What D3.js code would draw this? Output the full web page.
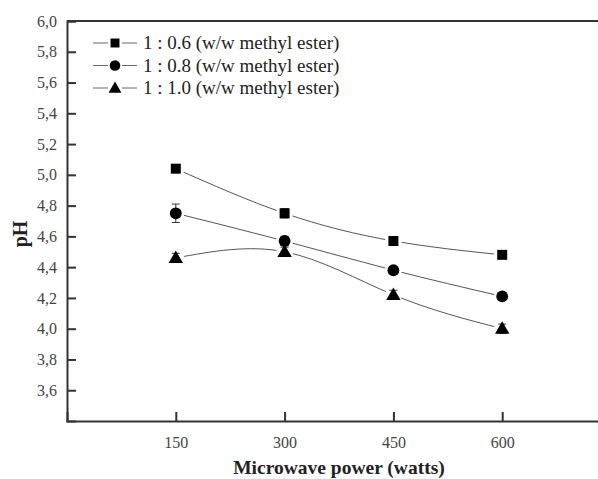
<!DOCTYPE html>
<html>
<head>
<meta charset="utf-8">
<script src="https://cdn.jsdelivr.net/npm/d3@7"></script>
<style>
  body { margin: 0; background: #fff; }
  text { font-family: "Liberation Serif", "Times New Roman", serif; fill: #222; }
</style>
</head>
<body>
<div id="chart"></div>
<script>
// Data
const powers = [150, 300, 450, 600];
const seriesNames = ["1 : 0.6 (w/w methyl ester)", "1 : 0.8 (w/w methyl ester)", "1 : 1.0 (w/w methyl ester)"];
const seriesSymbols = ["square", "circle", "triangle"];
const ph06 = [5.04, 4.75, 4.57, 4.48];
const ph08 = [4.75, 4.57, 4.38, 4.21];
const ph10 = [4.46, 4.50, 4.22, 4.00];
const err06 = [0.02, 0.03, 0.02, 0.02];
const err08 = [0.06, 0.03, 0.02, 0.02];
const err10 = [0.03, 0.03, 0.03, 0.03];
const xTicks = [150, 300, 450, 600];
const yTicks = [3.6, 3.8, 4.0, 4.2, 4.4, 4.6, 4.8, 5.0, 5.2, 5.4, 5.6, 5.8, 6.0];

const width = 598, height = 479;
const margin = { left: 67, top: 21, right: -13, bottom: 58 };

const svg = d3.select('#chart').append('svg')
    .attr('width', width)
    .attr('height', height);

const x = d3.scaleLinear().domain([0, 750]).range([margin.left, width - margin.right]);
const y = d3.scaleLinear().domain([3.4, 6.0]).range([height - margin.bottom, margin.top]);

const series = [ph06, ph08, ph10].map((vals, i) => ({
    name: seriesNames[i],
    symbol: seriesSymbols[i],
    points: powers.map((p, j) => ({ x: p, y: vals[j], e: [err06, err08, err10][i][j] }))
}));

function symbolPath(type, size) {
    const t = type === 'square' ? d3.symbolSquare : type === 'circle' ? d3.symbolCircle : d3.symbolTriangle;
    return d3.symbol().type(t).size(size)();
}
const symSize = { square: 100, circle: 110, triangle: 90 };

// Lines (natural spline like Origin)
const line = d3.line().x(d => x(d.x)).y(d => y(d.y)).curve(d3.curveNatural);
const linesG = svg.append('g');
series.forEach(s => {
    linesG.append('path')
        .attr('d', line(s.points))
        .attr('fill', 'none')
        .attr('stroke', '#555')
        .attr('stroke-width', 1);
});

// White gaps around markers
series.forEach(s => {
    svg.append('g').selectAll('circle')
        .data(s.points).enter().append('circle')
        .attr('cx', d => x(d.x)).attr('cy', d => y(d.y))
        .attr('r', 8.5).attr('fill', '#fff');
});

// Error bars
series.forEach(s => {
    const g = svg.append('g').attr('stroke', '#333').attr('stroke-width', 1);
    s.points.forEach(d => {
        const cx = x(d.x), y1 = y(d.y + d.e), y2 = y(d.y - d.e);
        g.append('line').attr('x1', cx).attr('x2', cx).attr('y1', y1).attr('y2', y2);
        g.append('line').attr('x1', cx - 4).attr('x2', cx + 4).attr('y1', y1).attr('y2', y1);
        g.append('line').attr('x1', cx - 4).attr('x2', cx + 4).attr('y1', y2).attr('y2', y2);
    });
});

// Markers
series.forEach(s => {
    svg.append('g').selectAll('path')
        .data(s.points).enter().append('path')
        .attr('transform', d => `translate(${x(d.x)},${y(d.y) + (s.symbol === 'triangle' ? 1 : 0)})`)
        .attr('d', symbolPath(s.symbol, symSize[s.symbol]))
        .attr('fill', '#000');
});

// Axes with inward ticks
const fmt = d => d3.format('.1f')(d).replace('.', ',');
const yAxis = svg.append('g')
    .attr('transform', `translate(${margin.left},0)`)
    .call(d3.axisLeft(y).tickValues(yTicks).tickSize(-9).tickPadding(10).tickFormat(fmt));
const xAxis = svg.append('g')
    .attr('transform', `translate(0,${height - margin.bottom})`)
    .call(d3.axisBottom(x).tickValues(xTicks).tickSize(-9).tickPadding(10));
[xAxis, yAxis].forEach(a => {
    a.attr('font-family', null);
    a.select('.domain').attr('stroke', '#333').attr('stroke-width', 2);
    a.selectAll('.tick line').attr('stroke', '#333').attr('stroke-width', 2);
    a.selectAll('.tick text')
        .style('font-family', '"Liberation Serif", serif')
        .style('font-size', '16px').style('fill', '#444');
});
xAxis.selectAll('.tick text').attr('dy', '1.05em');

// Top frame line
svg.append('line')
    .attr('x1', margin.left).attr('x2', width - margin.right)
    .attr('y1', margin.top).attr('y2', margin.top)
    .attr('stroke', '#333').attr('stroke-width', 2);

// Axis titles
svg.append('text')
    .attr('x', (margin.left + width - margin.right) / 2)
    .attr('y', 474)
    .attr('text-anchor', 'middle')
    .style('font-size', '19.5px').style('font-weight', 'bold')
    .text('Microwave power (watts)');
svg.append('text')
    .attr('transform', `translate(27,234) rotate(-90)`)
    .attr('text-anchor', 'middle')
    .style('font-size', '20px').style('font-weight', 'bold')
    .text('pH');

// Legend
const legend = svg.append('g');
series.forEach((s, i) => {
    const ly = 43 + i * 22.5;
    const row = legend.append('g').attr('transform', `translate(0,${ly})`);
    row.append('line').attr('x1', 93).attr('x2', 137).attr('y1', 0).attr('y2', 0)
        .attr('stroke', '#666').attr('stroke-width', 1);
    row.append('rect').attr('x', 108).attr('y', -7).attr('width', 14).attr('height', 14).attr('fill', '#fff');
    row.append('path').attr('transform', `translate(115,${s.symbol === 'triangle' ? 1 : 0})`)
        .attr('d', symbolPath(s.symbol, symSize[s.symbol] * 0.8)).attr('fill', '#000');
    row.append('text').attr('x', 143).attr('y', 6)
        .style('font-size', '19px')
        .style('fill', '#222')
        .text(s.name);
});
</script>
</body>
</html>
